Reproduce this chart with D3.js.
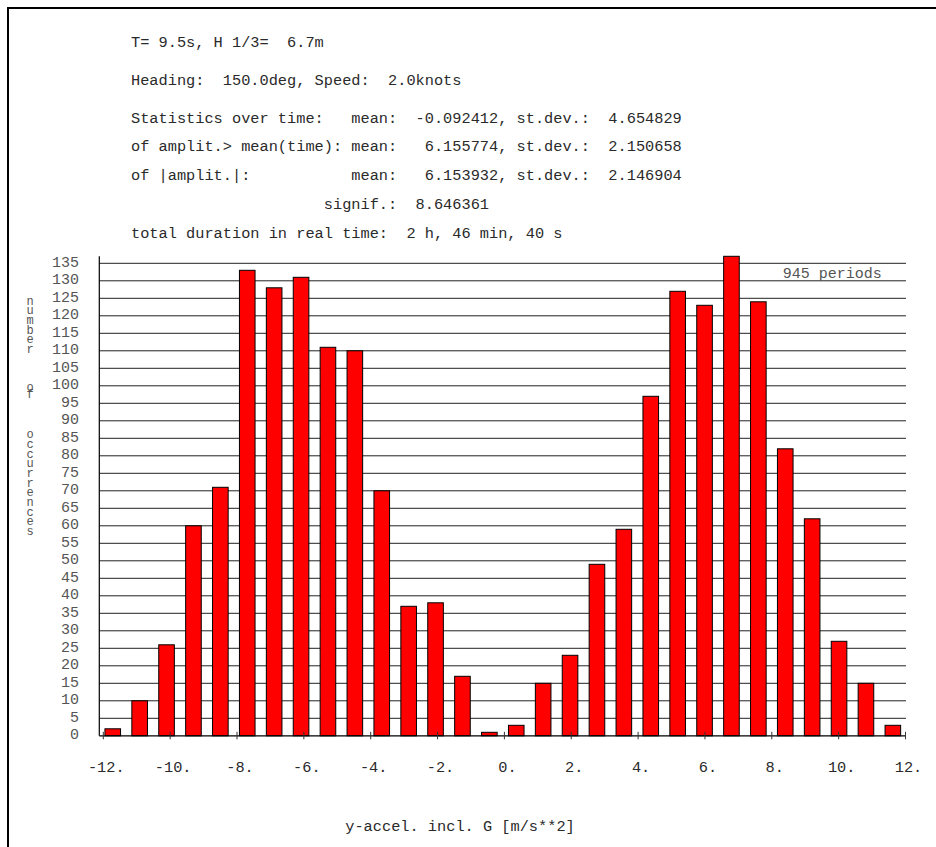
<!DOCTYPE html>
<html><head><meta charset="utf-8">
<script src="https://cdn.jsdelivr.net/npm/d3@7"></script>
<style>html,body{margin:0;padding:0;background:#fff;} svg{display:block;} text{white-space:pre;}
.vert{writing-mode:vertical-lr;text-orientation:upright;}</style>
</head><body>
<script>
// ---- data ----
const binCenters = [-11.6,-10.8,-10.0,-9.2,-8.4,-7.6,-6.8,-6.0,-5.2,-4.4,-3.6,-2.8,-2.0,-1.2,-0.4,
                    0.4,1.2,2.0,2.8,3.6,4.4,5.2,6.0,6.8,7.6,8.4,9.2,10.0,10.8,11.6];
const counts = [2,10,26,60,71,133,128,131,111,110,70,37,38,17,1,
                3,15,23,49,59,97,127,123,137,124,82,62,27,15,3];
const xTicks = [-12,-10,-8,-6,-4,-2,0,2,4,6,8,10,12];
const xTickLabels = ["-12.","-10.","-8.","-6.","-4.","-2.","0.","2.","4.","6.","8.","10.","12."];
const yTicks = [0,5,10,15,20,25,30,35,40,45,50,55,60,65,70,75,80,85,90,95,100,105,110,115,120,125,130,135];
const headerLines = [
  "T= 9.5s, H 1/3=  6.7m",
  "Heading:  150.0deg, Speed:  2.0knots",
  "Statistics over time:   mean:  -0.092412, st.dev.:  4.654829",
  "of amplit.> mean(time): mean:   6.155774, st.dev.:  2.150658",
  "of |amplit.|:           mean:   6.153932, st.dev.:  2.146904",
  "                     signif.:  8.646361",
  "total duration in real time:  2 h, 46 min, 40 s"
];
const yLabelWords = ["number","of","occurrences"];
const xTitle = "y-accel. incl. G [m/s**2]";
const periodsLabel = "945 periods";

// ---- layout ----
const W = 936, H = 847;
const svg = d3.select("body").append("svg").attr("width", W).attr("height", H);
const mono = "'Liberation Mono', 'DejaVu Sans Mono', monospace";

// frame
svg.append("path").attr("d", "M8,847V8H936").attr("fill","none").attr("stroke","#000").attr("stroke-width",2);

// header
const headerY = [46.5, 84.5, 122.5, 150.5, 179.5, 208.5, 237.5];
svg.append("g").selectAll("text").data(headerLines).join("text")
  .attr("x", 131).attr("y", (d,i)=>headerY[i])
  .attr("font-family", mono).attr("font-size", 15.3).attr("fill", "#2a2a2a")
  .text(d=>d);

// scales
const x = d3.scaleBand().domain(binCenters).range([99.3, 906.3]).paddingInner(0.42).paddingOuter(0.21);
const xLin = d3.scaleLinear().domain([-12, 12]).range([103.3, 905.5]);
const y = d3.scaleLinear().domain([0, 137]).range([735.8, 256.3]);
const plotL = 99.3, plotR = 906;

// grid
svg.append("g").selectAll("line").data(yTicks.filter(t=>t>0)).join("line")
  .attr("x1", plotL).attr("x2", plotR).attr("y1", d=>y(d)).attr("y2", d=>y(d))
  .attr("stroke", "#222").attr("stroke-width", 1);

// y tick labels
svg.append("g").selectAll("text").data(yTicks).join("text")
  .attr("x", 79).attr("y", d=>y(d)+3.5).attr("text-anchor","end")
  .attr("font-family", mono).attr("font-size", 15).attr("fill", "#555")
  .text(d=>d);

// bars
svg.append("g").selectAll("rect").data(counts).join("rect")
  .attr("x", (d,i)=>x(binCenters[i])).attr("width", x.bandwidth())
  .attr("y", d=>y(d)).attr("height", d=>y(0)-y(d))
  .attr("fill", "#ff0000").attr("stroke", "#000").attr("stroke-width", 1);

// axes
svg.append("line").attr("x1", plotL).attr("x2", plotR).attr("y1", y(0)).attr("y2", y(0))
  .attr("stroke", "#000").attr("stroke-width", 1.3);
svg.append("line").attr("x1", plotL).attr("x2", plotL).attr("y1", y(0)).attr("y2", y(137))
  .attr("stroke", "#000").attr("stroke-width", 1.2);

// x ticks
svg.append("g").selectAll("line").data(xTicks).join("line")
  .attr("x1", d=>xLin(d)).attr("x2", d=>xLin(d)).attr("y1", y(0)-4).attr("y2", y(0)+3.5)
  .attr("stroke", "#333").attr("stroke-width", 1);
svg.append("g").selectAll("text").data(xTicks).join("text")
  .attr("x", d=>xLin(d)+3).attr("y", 772).attr("text-anchor","middle")
  .attr("font-family", mono).attr("font-size", 15.3).attr("fill", "#2a2a2a")
  .text((d,i)=>xTickLabels[i]);

// x title
svg.append("text").attr("x", 460).attr("y", 831).attr("text-anchor","middle")
  .attr("font-family", mono).attr("font-size", 15.3).attr("fill", "#2a2a2a").text(xTitle);

// periods label
svg.append("text").attr("x", 782.7).attr("y", 277.5)
  .attr("font-family", mono).attr("font-size", 15).attr("fill", "#555").text(periodsLabel);

// vertical stacked y label: upright vertical text, one text per word
const wordStarts = [300, 386.5, 433.5];
const letterStep = [10.3, 10.2, 10.05];
svg.append("g").selectAll("text").data(yLabelWords).join("text")
  .attr("class", "vert")
  .attr("x", 30).attr("y", (w,i)=>wordStarts[i] - letterStep[i]/2)
  .attr("textLength", (w,i)=>w.length*letterStep[i]).attr("lengthAdjust", "spacing")
  .attr("font-family", mono).attr("font-size", 12).attr("fill", "#555")
  .text(w=>w);
</script>
</body></html>
